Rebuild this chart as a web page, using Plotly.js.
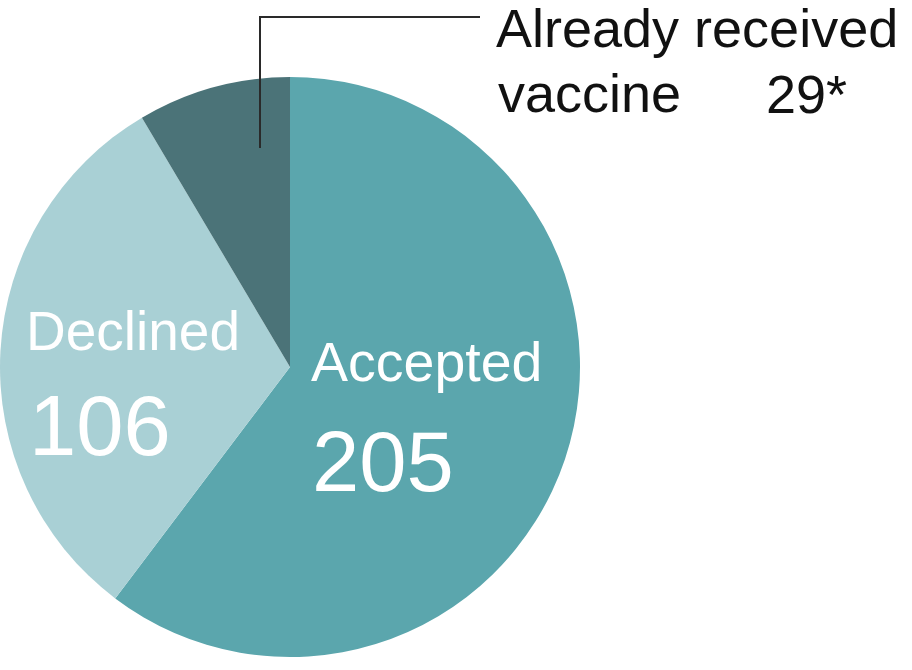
<!DOCTYPE html>
<html>
<head>
<meta charset="utf-8">
<script src="https://cdn.plot.ly/plotly-3.0.1.min.js"></script>
<style>
  html, body { margin: 0; padding: 0; background: #ffffff; }
  #chart { width: 912px; height: 670px; }
</style>
</head>
<body>
<div id="chart"></div>
<script>
// ---- data ----
const categories = ['Accepted', 'Declined', 'Already received vaccine'];
const values = [205, 106, 29];
const colors = ['#5ba6ad', '#a9d0d5', '#4b7378'];
const alreadyLines = ['Already received', 'vaccine'];
const footnoteMark = '*';

// ---- helpers: pixel -> paper ----
const W = 912, H = 670;
const px = x => x / W;
const py = y => 1 - y / H;

const FONT = 'Liberation Sans, Arial, sans-serif';

const trace = {
  type: 'pie',
  labels: categories,
  values: values,
  sort: false,
  direction: 'clockwise',
  rotation: 0,
  marker: { colors: colors, line: { width: 0 } },
  textinfo: 'none',
  hoverinfo: 'label+value',
  showlegend: false,
  domain: { x: [0, px(580)], y: [py(367 + 303), py(367 - 303)] }
};

const annotations = [
  // Declined label
  { text: categories[1], x: px(24), y: py(331), xanchor: 'left', yanchor: 'middle',
    font: { family: FONT, size: 55, color: '#ffffff' } },
  { text: String(values[1]), x: px(27), y: py(425), xanchor: 'left', yanchor: 'middle',
    font: { family: FONT, size: 85, color: '#ffffff' } },
  // Accepted label
  { text: categories[0], x: px(309), y: py(362), xanchor: 'left', yanchor: 'middle',
    font: { family: FONT, size: 55.5, color: '#ffffff' } },
  { text: String(values[0]), x: px(310), y: py(461), xanchor: 'left', yanchor: 'middle',
    font: { family: FONT, size: 85, color: '#ffffff' } },
  // Already received callout
  { text: alreadyLines[0], x: px(494), y: py(28), xanchor: 'left', yanchor: 'middle',
    font: { family: FONT, size: 54, color: '#111111' } },
  { text: alreadyLines[1], x: px(496), y: py(93), xanchor: 'left', yanchor: 'middle',
    font: { family: FONT, size: 54, color: '#111111' } },
  { text: String(values[2]) + footnoteMark, x: px(764), y: py(94), xanchor: 'left', yanchor: 'middle',
    font: { family: FONT, size: 54, color: '#111111' } }
].map(a => Object.assign({ xref: 'paper', yref: 'paper', showarrow: false }, a));

const shapes = [
  { type: 'path', xref: 'paper', yref: 'paper',
    path: `M ${px(260)} ${py(148)} L ${px(260)} ${py(17)} L ${px(480)} ${py(17)}`,
    line: { color: '#2a2a2a', width: 2 } }
];

const layout = {
  width: W, height: H,
  margin: { l: 0, r: 0, t: 0, b: 0 },
  paper_bgcolor: '#ffffff',
  plot_bgcolor: '#ffffff',
  annotations: annotations,
  shapes: shapes
};

Plotly.newPlot('chart', [trace], layout, { displayModeBar: false, staticPlot: true });
</script>
</body>
</html>
